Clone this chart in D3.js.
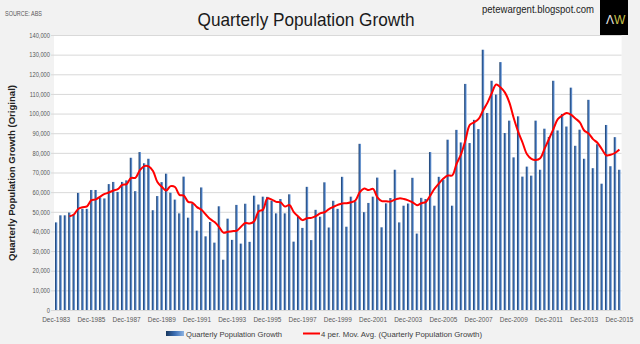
<html>
<head><meta charset="utf-8"/></head>
<script src="https://d3js.org/d3.v7.min.js"></script>
<style>
  body { margin: 0; background: #f2f2f2; }
  svg { display: block; font-family: "Liberation Sans", Arial, sans-serif; }
  .grid line { stroke: #d9d9d9; stroke-width: 1; }
  .grid path { display: none; }
  .grid text { fill: #595959; font-size: 7px; }
  .xax path, .xax line { display: none; }
  .xax text { fill: #595959; font-size: 7px; }
</style>
<body>
<svg width="640" height="344"></svg>
<script>
// quarterly population growth, Dec-1983 .. Dec-2015 (thousands)
var growth = [
  44.6, 48.2, 48.2, 49.6, 48.4, 59.6, 51.5, 51.5, 61.1, 61.1,
  57.3, 56.8, 64.1, 65.2, 60.1, 65.2, 66.0, 77.5, 60.5, 80.4,
  74.7, 77.0, 50.8, 58.0, 65.1, 69.4, 59.7, 56.2, 49.2, 67.9,
  47.0, 54.2, 40.4, 62.4, 37.5, 44.8, 34.3, 52.8, 25.6, 46.5,
  35.7, 53.5, 33.8, 54.1, 34.7, 58.2, 53.7, 57.7, 57.6, 55.7,
  49.2, 56.5, 49.2, 58.9, 34.8, 47.5, 41.8, 62.7, 35.6, 51.0,
  47.5, 65.0, 42.0, 55.6, 51.5, 67.8, 42.4, 57.7, 55.3, 84.6,
  49.8, 54.5, 57.7, 67.4, 42.1, 54.3, 57.0, 71.4, 44.6, 53.1,
  54.2, 67.3, 38.9, 57.1, 56.5, 80.4, 53.1, 67.8, 66.3, 86.7,
  53.1, 91.7, 85.3, 115.1, 85.0, 96.8, 92.1, 132.5, 100.3, 116.7,
  109.7, 126.2, 90.1, 96.4, 77.7, 98.6, 67.9, 73.0, 68.4, 96.4,
  71.4, 92.3, 88.1, 116.7, 91.4, 99.8, 93.4, 113.2, 83.6, 91.8,
  77.0, 107.0, 72.2, 84.4, 64.3, 94.2, 73.2, 88.0, 71.4
];
var months = ["Mar", "Jun", "Sep", "Dec"];
var startYear = 1983;
var tickLabels = ["Dec-1983", "Dec-1985", "Dec-1987", "Dec-1989", "Dec-1991", "Dec-1993",
  "Dec-1995", "Dec-1997", "Dec-1999", "Dec-2001", "Dec-2003", "Dec-2005", "Dec-2007",
  "Dec-2009", "Dec-2011", "Dec-2013", "Dec-2015"];
var yTicks = [0, 10000, 20000, 30000, 40000, 50000, 60000, 70000, 80000, 90000, 100000,
  110000, 120000, 130000, 140000];

var quarters = growth.map(function(d, i) {
  var m = (3 + i) % 4;
  var yr = startYear + Math.floor((3 + i) / 4);
  return months[m] + "-" + yr;
});
var data = growth.map(function(d, i) { return {q: quarters[i], v: d * 1000}; });

// 4 period trailing moving average, like excel's trendline
var ma = [];
for (var i = 3; i < data.length; i++) {
  ma.push({q: data[i].q, v: (data[i].v + data[i-1].v + data[i-2].v + data[i-3].v) / 4});
}

var pLeft = 54, pRight = 621.6, pTop = 35, pBottom = 310;
var svg = d3.select("svg");

var x = d3.scaleBand().domain(quarters).range([pLeft, pRight]).paddingInner(0.44).paddingOuter(0.22);
var y = d3.scaleLinear().domain([0, 140000]).range([pBottom, pTop]);

var defs = svg.append("defs");
var grad = defs.append("linearGradient").attr("id", "barg").attr("x1", 0).attr("x2", 1).attr("y1", 0).attr("y2", 0);
grad.append("stop").attr("offset", "0%").attr("stop-color", "#17375e");
grad.append("stop").attr("offset", "50%").attr("stop-color", "#3c6eb4");
grad.append("stop").attr("offset", "100%").attr("stop-color", "#8db3e2");

// plot area
svg.append("rect").attr("x", pLeft).attr("y", pTop).attr("width", pRight - pLeft).attr("height", pBottom - pTop).attr("fill", "#ffffff");

var gy = svg.append("g")
  .attr("class", "grid")
  .attr("transform", "translate(" + pLeft + ",0)")
  .call(d3.axisLeft(y).tickValues(yTicks).tickFormat(d3.format(",")).tickSizeInner(-(pRight - pLeft)).tickSizeOuter(0).tickPadding(4));
gy.selectAll("line").attr("x1", -3);
gy.selectAll("text").attr("textLength", function() { return this.getComputedTextLength() * 0.82; })
  .attr("lengthAdjust", "spacingAndGlyphs");

svg.append("g")
  .selectAll("rect")
  .data(data)
  .enter()
  .append("rect")
  .attr("x", function(d) { return x(d.q); })
  .attr("width", x.bandwidth())
  .attr("y", function(d) { return y(d.v); })
  .attr("height", function(d) { return pBottom - y(d.v); })
  .attr("fill", "url(#barg)");

var line = d3.line()
  .x(function(d) { return x(d.q) + x.bandwidth() / 2; })
  .y(function(d) { return y(d.v); })
  .curve(d3.curveCatmullRom);

svg.append("path")
  .datum(ma)
  .attr("d", line)
  .attr("fill", "none")
  .attr("stroke", "#ff0000")
  .attr("stroke-width", 2);

svg.append("g")
  .attr("class", "xax")
  .attr("transform", "translate(0," + pBottom + ")")
  .call(d3.axisBottom(x).tickValues(tickLabels).tickSize(0).tickPadding(7))
  .selectAll("text").attr("textLength", 28).attr("lengthAdjust", "spacingAndGlyphs");

// titles
svg.append("text").attr("x", 306).attr("y", 26).attr("text-anchor", "middle")
  .attr("font-size", 19).attr("fill", "#1a1a1a")
  .attr("textLength", 217).attr("lengthAdjust", "spacingAndGlyphs")
  .text("Quarterly Population Growth");
svg.append("text").attr("x", 5).attr("y", 16).attr("font-size", 7).attr("fill", "#595959")
  .attr("textLength", 37).attr("lengthAdjust", "spacingAndGlyphs").text("SOURCE: ABS");
svg.append("text").attr("x", 482).attr("y", 13).attr("font-size", 10.5).attr("fill", "#222")
  .attr("textLength", 112).attr("lengthAdjust", "spacingAndGlyphs").text("petewargent.blogspot.com");
svg.append("text")
  .attr("transform", "translate(15,173) rotate(-90)")
  .attr("text-anchor", "middle")
  .attr("font-weight", "bold").attr("font-size", 8.5).attr("fill", "#222")
  .attr("textLength", 176).attr("lengthAdjust", "spacingAndGlyphs")
  .text("Quarterly Population Growth (Original)");

// logo
svg.append("rect").attr("x", 600).attr("y", 0).attr("width", 28).attr("height", 35).attr("fill", "#000");
svg.append("text").attr("x", 606).attr("y", 24).attr("font-size", 12).attr("fill", "#e8e8e8").text("\u039B");
svg.append("text").attr("x", 614).attr("y", 24).attr("font-size", 12).attr("fill", "#c9c24a").text("W");

// legend
var lg = svg.append("g").attr("font-size", 7.5).attr("fill", "#404040");
lg.append("rect").attr("x", 166).attr("y", 331).attr("width", 18).attr("height", 5).attr("fill", "url(#barg)");
lg.append("text").attr("x", 186).attr("y", 336.5).attr("textLength", 96).attr("lengthAdjust", "spacingAndGlyphs")
  .text("Quarterly Population Growth");
lg.append("line").attr("x1", 303).attr("x2", 320).attr("y1", 333.5).attr("y2", 333.5).attr("stroke", "#ff0000").attr("stroke-width", 2);
lg.append("text").attr("x", 321).attr("y", 336.5).attr("textLength", 161).attr("lengthAdjust", "spacingAndGlyphs")
  .text("4 per. Mov. Avg. (Quarterly Population Growth)");
</script>
</body>
</html>
